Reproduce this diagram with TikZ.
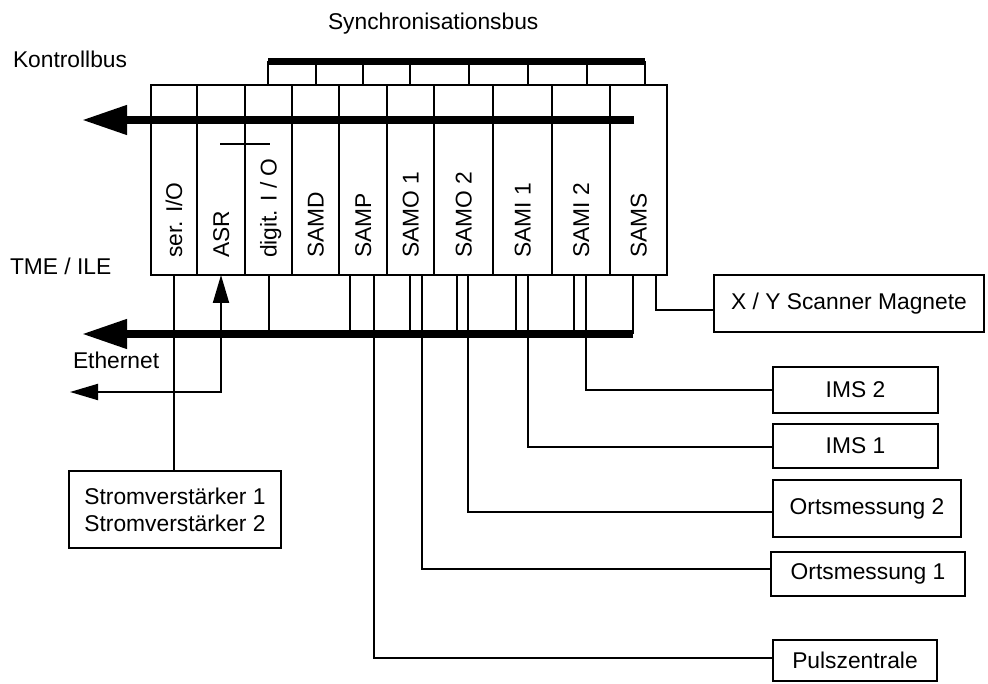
\documentclass[tikz,border=0pt]{standalone}
\usepackage{fontspec}
\setmainfont{Liberation Sans}
\usetikzlibrary{arrows.meta,calc}

\begin{document}
\begin{tikzpicture}[x=1pt, y=-1pt,
  every node/.style={font=\fontsize{22.8}{27}\selectfont, inner sep=0pt, outer sep=0pt},
  wire/.style={line width=2pt},
  card/.style={draw, line width=2pt, anchor=north west, minimum height=190pt},
  slot/.style={draw, line width=2pt, anchor=north west, minimum height=23pt},
  cardlabel/.style={rotate=90, anchor=west, text height=16.3pt, text depth=0pt},
  unit/.style={draw, line width=2pt, anchor=north west},
  bus/.style={line width=7.5pt, -{Triangle[length=45pt, width=28pt]}},
  syncbar/.style={line width=7pt},
  tiparrow/.style={line width=2pt, {Triangle[length=28pt, width=16pt]}-{Triangle[length=28pt, width=16pt]}},
  caption/.style={anchor=base west}
]
\useasboundingbox (0,0) rectangle (988,684);

% synchronisation bus: slots on top of the rack, closed by a heavy bar
\foreach \l/\w/\n in {268/48/1, 316/47/2, 363/47/3, 410/59/4, 469/59/5, 528/59/6, 587/58/7}
  \node[slot, minimum width=\w pt] (s\n) at (\l,62) {};
\draw[syncbar] (s1.north west) -- (s7.north east);

% the rack with its ten cards
\foreach \l/\w/\n in {151/46/1, 197/48/2, 245/47/3, 292/47/4, 339/48/5,
                      387/47/6, 434/59/7, 493/59/8, 552/58/9, 610/57/10}
  \node[card, minimum width=\w pt] (c\n) at (\l,85) {};

\foreach \n/\txt in {1/{ser. I/O}, 2/{ASR}, 3/{digit. I / O}, 4/{SAMD}, 5/{SAMP},
                     6/{SAMO 1}, 7/{SAMO 2}, 8/{SAMI 1}, 9/{SAMI 2}, 10/{SAMS}}
  \node[cardlabel] (l\n) at ($(c\n.south)+(0,-17)$) {\txt};

% small bar across the ASR / digit. I/O boundary
\draw[wire] ($(c2.north)+(-1,59)$) -- ($(c3.north)+(1.5,59)$);

% control bus and TME/ILE bus
\coordinate (kbusR) at (634,120);
\coordinate (kbusL) at (82,120);
\draw[bus] (kbusR) -- (kbusL);

\coordinate (ebusR) at (633,334);
\coordinate (ebusL) at (82,334);
\draw[bus] (ebusR) -- (ebusL);

% captions
\node[caption] (tsync) at (328,30) {Synchronisationsbus};
\node[caption] (tkon) at (13,68) {Kontrollbus};
\node[caption] (ttme) at (10,275) {TME / ILE};
\node[caption] (teth) at (73,369) {Ethernet};

% peripheral units
\node[unit, minimum width=270pt, minimum height=57pt] (xy) at (714,275) {X / Y Scanner Magnete};
\node[unit, minimum width=165pt, minimum height=46pt] (ims2) at (773,367) {IMS 2};
\node[unit, minimum width=165pt, minimum height=44pt] (ims1) at (773,424) {IMS 1};
\node[unit, minimum width=188pt, minimum height=57pt] (om2) at (773,480) {Ortsmessung 2};
\node[unit, minimum width=194pt, minimum height=44pt] (om1) at (771,552) {Ortsmessung 1};
\node[unit, minimum width=164pt, minimum height=41pt] (puls) at (773,640) {Pulszentrale};
\node[unit, minimum width=212pt, minimum height=77pt, align=left] (sv) at (69,471)
  {Stromverst\"arker 1\\Stromverst\"arker 2};

% card taps onto the TME/ILE bus
\foreach \n/\dx in {3/0, 5/-13, 6/-0.5, 7/-6.5, 8/-6.5, 9/-7, 10/-5.5}
  \draw[wire] ($(c\n.south)+(\dx,0)$) coordinate (b\n) -- (b\n |- ebusR);

% ser. I/O down to the current amplifiers
\draw[wire] (c1.south) -- (c1.south |- sv.north);

% Ethernet link into the ASR card
\coordinate (ethEnd) at (70,392);
\draw[tiparrow] (ethEnd) -| (c2.south);

% card outputs to the peripheral units
\draw[wire] ($(c5.south)+(11,0)$) |- ($(puls.west)+(0,-2.5)$);
\draw[wire] ($(c6.south)+(11.5,0)$) |- ($(om1.west)+(0,-5)$);
\draw[wire] ($(c7.south)+(4.5,0)$) |- ($(om2.west)+(0,3.5)$);
\draw[wire] ($(c8.south)+(5.5,0)$) |- ($(ims1.west)+(0,1)$);
\draw[wire] ($(c9.south)+(5,0)$) |- (ims2.west);
\draw[wire] ($(c10.south)+(17.5,0)$) |- ($(xy.west)+(0,6.5)$);
\end{tikzpicture}
\end{document}
